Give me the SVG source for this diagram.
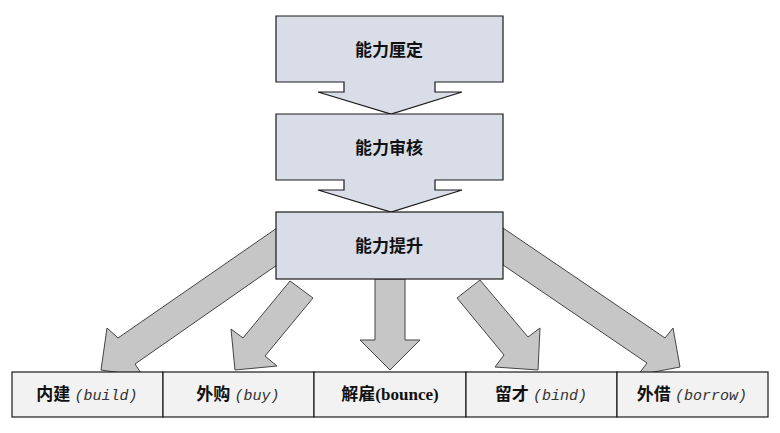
<svg xmlns="http://www.w3.org/2000/svg" width="780" height="433" viewBox="0 0 780 433">
<style>
.box{fill:#d8dde7;stroke:#1a1a1a;stroke-width:1.2}
.arr{fill:#c6c6c6;stroke:#444;stroke-width:1}
.cell{fill:#f2f2f2;stroke:#1a1a1a;stroke-width:1.2}
.t{font-family:"Liberation Serif","Noto Sans CJK SC",serif;font-weight:bold;font-size:17px;fill:#111;text-anchor:middle}
.m{font-family:"Liberation Mono",monospace;font-style:italic;font-weight:normal;font-size:15px;fill:#333}
</style>
<rect width="780" height="433" fill="#fff"/>
<g id="connectors">
<polygon class="arr" points="277,228 118,338 107,328 101,370 143,376 135,364 277,265"/>
<polygon class="arr" points="290,281 243,338 231,329 235,370 277,366 265,356 313,298"/>
<polygon class="arr" points="375,279 405,279 405,340 420,340 390,370 360,340 375,340"/>
<polygon class="arr" points="480,280 528,337 540,328 538,370 495,367 504,355 457,298"/>
<polygon class="arr" points="503,228 665,338 673,328 680,367 638,375 647,363 503,265"/>
</g>
<g id="n1">
<path class="box" d="M276,16 H503 V82 H435 V92 H462 L391,114 L318,92 H344 V82 H276 Z"/>
<text class="t" x="389" y="56">能力厘定</text>
</g>
<g id="n2">
<path class="box" d="M276,114 H503 V180 H435 V190 H462 L391,212 L318,190 H344 V180 H276 Z"/>
<text class="t" x="389" y="154">能力审核</text>
</g>
<g id="n3">
<rect class="box" x="276" y="212" width="227" height="67"/>
<text class="t" x="389" y="252">能力提升</text>
</g>
<g id="b1"><rect class="cell" x="12" y="372" width="151" height="45"/><text class="t" x="87" y="400">内建 <tspan class="m">(build)</tspan></text></g>
<g id="b2"><rect class="cell" x="163" y="372" width="151" height="45"/><text class="t" x="238" y="400">外购 <tspan class="m">(buy)</tspan></text></g>
<g id="b3"><rect class="cell" x="314" y="372" width="152" height="45"/><text class="t" x="390" y="400">解雇(bounce)</text></g>
<g id="b4"><rect class="cell" x="466" y="372" width="151" height="45"/><text class="t" x="541" y="400">留才 <tspan class="m">(bind)</tspan></text></g>
<g id="b5"><rect class="cell" x="617" y="372" width="151" height="45"/><text class="t" x="692" y="400">外借 <tspan class="m">(borrow)</tspan></text></g>
</svg>
